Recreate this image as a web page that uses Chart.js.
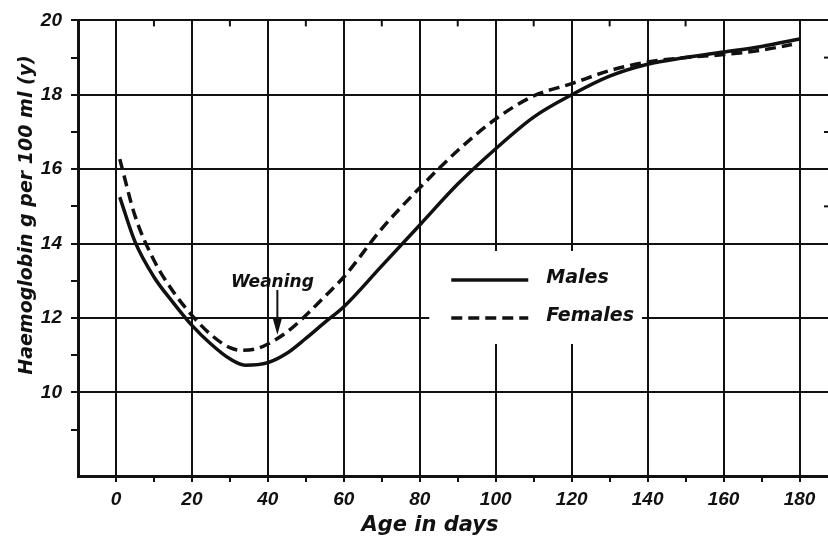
<!DOCTYPE html>
<html>
<head>
<meta charset="utf-8">
<title>Haemoglobin by age</title>
<script src="https://cdn.jsdelivr.net/npm/chart.js@4.4.1/dist/chart.umd.min.js"></script>
<style>
  html, body { margin: 0; padding: 0; background: #fff; }
  #wrap { width: 828px; height: 538px; }
</style>
</head>
<body>
<div id="wrap"><canvas id="hb" width="828" height="538"></canvas></div>
<script>
// Haemoglobin (g per 100 ml) against age in days, one pair of arrays per sex
const maleDays = [1, 5, 10, 15, 20, 25, 30, 34, 40, 45, 50, 55, 60, 70, 80, 90, 100, 110, 120, 130, 140, 150, 160, 170, 180];
const maleHb   = [15.25, 14.05, 13.1, 12.42, 11.8, 11.3, 10.9, 10.73, 10.8, 11.05, 11.45, 11.88, 12.3, 13.4, 14.5, 15.6, 16.55, 17.4, 18.0, 18.5, 18.82, 19.0, 19.15, 19.3, 19.5];

const femaleDays = [1, 5, 10, 15, 20, 25, 30, 33, 37, 40, 45, 50, 55, 60, 70, 80, 90, 100, 110, 120, 130, 140, 150, 160, 170, 178];
const femaleHb   = [16.27, 14.75, 13.55, 12.72, 12.07, 11.55, 11.2, 11.13, 11.17, 11.3, 11.62, 12.07, 12.58, 13.1, 14.4, 15.5, 16.5, 17.35, 17.97, 18.3, 18.65, 18.88, 19.0, 19.08, 19.2, 19.35];

const seriesNames = ['Males', 'Females'];

// Labelled ticks on each axis
const xTickLabels = [0, 20, 40, 60, 80, 100, 120, 140, 160, 180];
const yTickLabels = [10, 12, 14, 16, 18, 20];

const xTitle = 'Age in days';
const yTitle = 'Haemoglobin g per 100 ml (y)';
const weaningText = 'Weaning';
const weaningDay = 42.5;

const ink = '#111';
const clear = 'rgba(0,0,0,0)';
const handFont = size => `italic bold ${size}px "DejaVu Sans", sans-serif`;

const toPoints = (days, hb) => days.map((d, i) => ({ x: d, y: hb[i] }));

// Extra drawing: key panel, weaning arrow, inner ticks and axis titles
const decorations = {
  id: 'decorations',
  beforeDatasetsDraw(chart) {
    const { ctx, scales: { x, y } } = chart;
    const left = x.getPixelForValue(82.5), right = x.getPixelForValue(138.5);
    const top = y.getPixelForValue(13.8), bottom = y.getPixelForValue(11.3);
    ctx.save();
    ctx.fillStyle = '#fff';
    ctx.fillRect(left, top, right - left, bottom - top);
    chart.data.datasets.forEach((ds, i) => {
      const cy = top + 29 + i * 38;
      ctx.strokeStyle = ds.borderColor;
      ctx.lineWidth = ds.borderWidth;
      ctx.setLineDash(ds.borderDash || []);
      ctx.beginPath();
      ctx.moveTo(left + 22, cy);
      ctx.lineTo(left + 99, cy);
      ctx.stroke();
      ctx.setLineDash([]);
      ctx.fillStyle = ink;
      ctx.font = handFont(19);
      ctx.textAlign = 'left';
      ctx.textBaseline = 'middle';
      ctx.fillText(ds.label, left + 117, cy - 2);
    });
    ctx.restore();
  },
  afterDraw(chart) {
    const { ctx, chartArea, scales: { x, y } } = chart;
    ctx.save();
    ctx.strokeStyle = ink;
    ctx.fillStyle = ink;
    ctx.lineWidth = 2;

    // short inward ticks hanging from the top edge
    for (let v = 10; v <= 150; v += 20) {
      const px = x.getPixelForValue(v);
      ctx.beginPath();
      ctx.moveTo(px, chartArea.top);
      ctx.lineTo(px, chartArea.top + 6);
      ctx.stroke();
    }
    // marks at the right edge
    [15, 17, 19].forEach(v => {
      const py = y.getPixelForValue(v);
      ctx.beginPath();
      ctx.moveTo(chartArea.right - 4, py);
      ctx.lineTo(chartArea.right, py);
      ctx.stroke();
    });

    // weaning arrow
    const ax = x.getPixelForValue(weaningDay);
    const tip = y.getPixelForValue(11.55);
    const tail = y.getPixelForValue(12.75);
    ctx.beginPath();
    ctx.moveTo(ax, tail);
    ctx.lineTo(ax, tip - 12);
    ctx.stroke();
    ctx.beginPath();
    ctx.moveTo(ax - 4.5, tip - 16);
    ctx.lineTo(ax + 4.5, tip - 16);
    ctx.lineTo(ax, tip);
    ctx.closePath();
    ctx.fill();
    ctx.font = handFont(17);
    ctx.textAlign = 'center';
    ctx.textBaseline = 'alphabetic';
    ctx.fillText(weaningText, ax - 5, tail - 3);

    // axis titles
    ctx.font = handFont(21);
    ctx.fillText(xTitle, 430, 531);
    ctx.translate(32, 215);
    ctx.rotate(-Math.PI / 2);
    ctx.font = handFont(19);
    ctx.fillText(yTitle, 0, 0);
    ctx.restore();
  }
};

const tickFont = { family: 'Liberation Sans', size: 19, weight: 'bold', style: 'italic' };

new Chart(document.getElementById('hb'), {
  type: 'line',
  data: {
    datasets: [
      {
        label: seriesNames[0],
        data: toPoints(maleDays, maleHb),
        borderColor: ink,
        borderWidth: 3.5,
        pointRadius: 0,
        fill: false,
        cubicInterpolationMode: 'monotone'
      },
      {
        label: seriesNames[1],
        data: toPoints(femaleDays, femaleHb),
        borderColor: ink,
        borderWidth: 3.5,
        borderDash: [11, 6],
        pointRadius: 0,
        fill: false,
        cubicInterpolationMode: 'monotone'
      }
    ]
  },
  options: {
    responsive: false,
    animation: false,
    devicePixelRatio: 1,
    layout: { padding: { top: 18, right: 0, bottom: 0, left: 0 } },
    plugins: { legend: { display: false }, tooltip: { enabled: false } },
    scales: {
      x: {
        type: 'linear',
        min: -10,
        max: 187.5,
        afterFit(scale) { scale.height = 62; },
        afterBuildTicks(scale) {
          const t = [];
          for (let v = 0; v <= 180; v += 10) t.push({ value: v });
          scale.ticks = t;
        },
        grid: {
          color: c => (c.tick && xTickLabels.includes(c.tick.value)) ? ink : clear,
          tickColor: ink,
          lineWidth: 2,
          tickLength: 6
        },
        border: { display: true, color: ink, width: 3 },
        ticks: {
          color: ink,
          font: tickFont,
          padding: 6,
          maxRotation: 0,
          autoSkip: false,
          callback: v => xTickLabels.includes(v) ? String(v) : ''
        }
      },
      y: {
        type: 'linear',
        min: 7.75,
        max: 20,
        afterFit(scale) { scale.width = 78; },
        afterBuildTicks(scale) {
          const t = [];
          for (let v = 9; v <= 20; v += 1) t.push({ value: v });
          scale.ticks = t;
        },
        grid: {
          color: c => (c.tick && yTickLabels.includes(c.tick.value)) ? ink : clear,
          tickColor: ink,
          lineWidth: 2,
          tickLength: 7
        },
        border: { display: true, color: ink, width: 3 },
        ticks: {
          color: ink,
          font: tickFont,
          padding: 9,
          autoSkip: false,
          callback: v => yTickLabels.includes(v) ? String(v) : ''
        }
      }
    }
  },
  plugins: [decorations]
});
</script>
</body>
</html>
